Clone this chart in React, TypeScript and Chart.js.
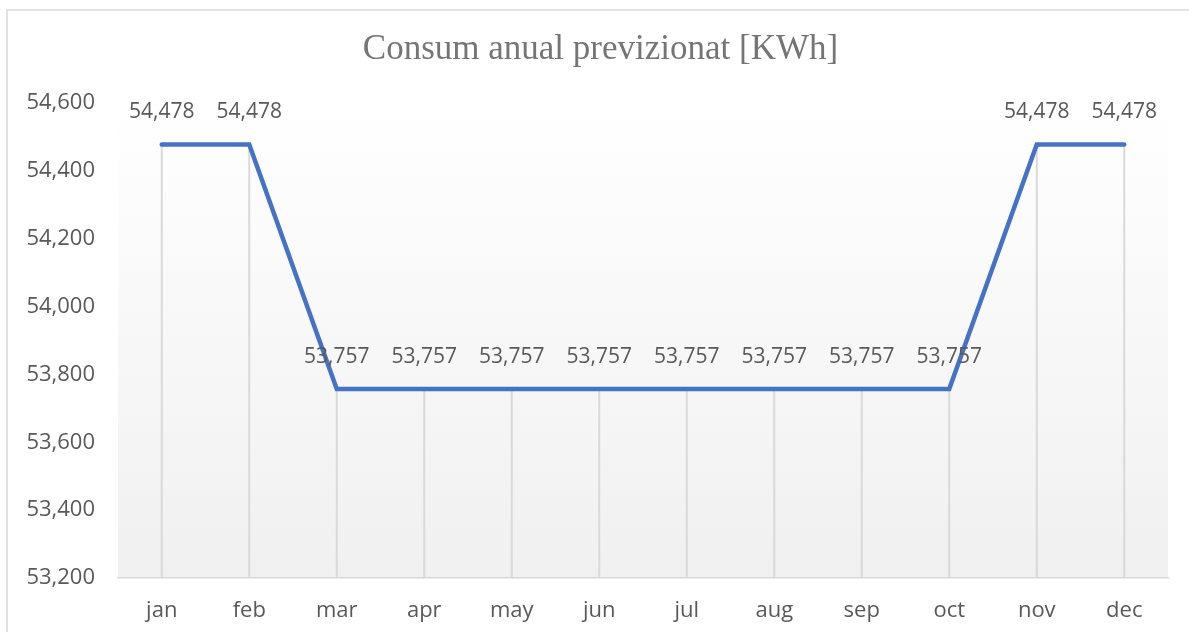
import React, { useEffect, useRef } from "react";
import { Chart, registerables } from "chart.js";

Chart.register(...registerables);

const months = ["jan", "feb", "mar", "apr", "may", "jun", "jul", "aug", "sep", "oct", "nov", "dec"];
const consumption = [54478, 54478, 53757, 53757, 53757, 53757, 53757, 53757, 53757, 53757, 54478, 54478];
const yMin = 53200;
const yMax = 54600;
const yStep = 200;
const titleText = "Consum anual previzionat [KWh]";

const fmt = (v: number) => Number(v).toLocaleString("en-US");

const framePlugin = {
  id: "frame",
  afterLayout(chart: any) {
    // let the y tick labels extend past the scale box on the left
    if (chart.scales.y) chart.scales.y._computeLabelArea = () => undefined;
  },
  beforeDraw(chart: any) {
    const { ctx, chartArea, width } = chart;
    ctx.save();
    const g = ctx.createLinearGradient(0, chartArea.top, 0, chartArea.bottom);
    g.addColorStop(0, "#ffffff");
    g.addColorStop(1, "#f0f0f0");
    ctx.fillStyle = g;
    ctx.fillRect(chartArea.left, chartArea.top, chartArea.right - chartArea.left, chartArea.bottom - chartArea.top);
    ctx.strokeStyle = "#d9d9d9";
    ctx.lineWidth = 1.5;
    ctx.beginPath();
    ctx.moveTo(7, chart.height);
    ctx.lineTo(7, 10);
    ctx.lineTo(width, 10);
    ctx.stroke();
    ctx.restore();
  },
};

const dropLinesPlugin = {
  id: "dropLines",
  beforeDatasetsDraw(chart: any) {
    const { ctx, chartArea } = chart;
    const meta = chart.getDatasetMeta(0);
    ctx.save();
    ctx.strokeStyle = "#d9d9d9";
    ctx.lineWidth = 2;
    meta.data.forEach((pt: any) => {
      ctx.beginPath();
      ctx.moveTo(pt.x, pt.y);
      ctx.lineTo(pt.x, chartArea.bottom);
      ctx.stroke();
    });
    ctx.restore();
  },
};

const labelsPlugin = {
  id: "pointLabels",
  afterDatasetsDraw(chart: any) {
    const { ctx } = chart;
    const meta = chart.getDatasetMeta(0);
    const data = chart.data.datasets[0].data;
    ctx.save();
    ctx.font = "21px 'Open Sans'";
    ctx.fillStyle = "#595959";
    ctx.textAlign = "center";
    ctx.textBaseline = "middle";
    meta.data.forEach((pt: any, i: number) => {
      ctx.fillText(fmt(data[i]), pt.x, pt.y - 32);
    });
    ctx.restore();
  },
};

export default function App() {
  const ref = useRef<HTMLCanvasElement | null>(null);
  useEffect(() => {
    if (!ref.current) return;
    const chart = new Chart(ref.current, {
      type: "line",
      data: {
        labels: months,
        datasets: [
          {
            data: consumption,
            borderColor: "#4472C4",
            borderWidth: 4.5,
            borderCapStyle: "round",
            pointRadius: 0,
            pointHoverRadius: 0,
            tension: 0,
            fill: false,
          },
        ],
      },
      options: {
        animation: false,
        responsive: false,
        maintainAspectRatio: false,
        layout: { padding: { left: 33, right: 21, top: 0, bottom: 0 } },
        plugins: {
          legend: { display: false },
          tooltip: { enabled: false },
          title: {
            display: true,
            text: titleText,
            color: "#757575",
            font: { family: "'Liberation Serif'", size: 35, weight: "normal", lineHeight: 1.2 },
            padding: { top: 29, bottom: 32 },
          },
        },
        scales: {
          x: {
            offset: true,
            grid: { display: false, drawTicks: false },
            border: { display: true, color: "#d9d9d9", width: 1.5 },
            ticks: { color: "#595959", font: { family: "'Open Sans'", size: 22 }, padding: 20, maxRotation: 0 },
            afterFit(scale: any) {
              scale.height = 54;
            },
          },
          y: {
            min: yMin,
            max: yMax,
            grid: { display: false, drawTicks: false },
            border: { display: false },
            ticks: {
              stepSize: yStep,
              color: "#595959",
              font: { family: "'Open Sans'", size: 22 },
              padding: 23,
              callback: (v: any) => fmt(v),
            },
            afterFit(scale: any) {
              scale.width = 85;
            },
          },
        },
      },
      plugins: [framePlugin, dropLinesPlugin, labelsPlugin],
    });
    return () => chart.destroy();
  }, []);
  return (
    <div style={{ position: "absolute", left: 0, top: 0, width: 1189, height: 632, overflow: "hidden", background: "#fff" }}>
      <canvas ref={ref} width={1189} height={632} style={{ display: "block" }} />
    </div>
  );
}
